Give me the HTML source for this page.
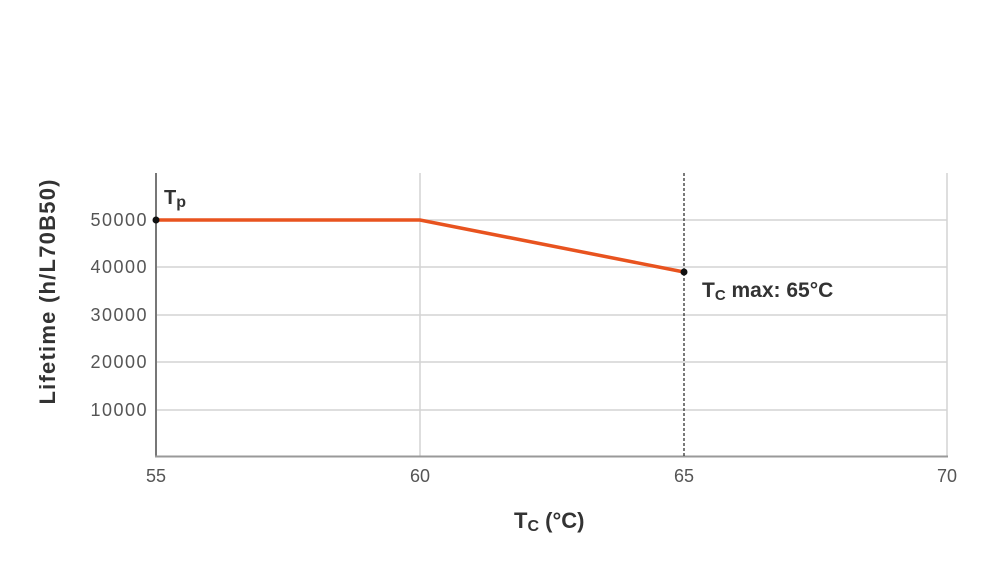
<!DOCTYPE html>
<html><head><style>body{margin:0;background:#fff}svg{display:block}</style></head><body>
<svg width="1000" height="584" viewBox="0 0 1000 584" font-family="Liberation Sans, sans-serif">
<g stroke="#d4d4d4" stroke-width="1.5">
<line x1="156" y1="220" x2="947" y2="220"/><line x1="156" y1="267" x2="947" y2="267"/>
<line x1="156" y1="315" x2="947" y2="315"/><line x1="156" y1="362" x2="947" y2="362"/>
<line x1="156" y1="410" x2="947" y2="410"/>
<line x1="420" y1="173" x2="420" y2="456"/><line x1="947" y1="173" x2="947" y2="456"/>
</g>
<line x1="156" y1="173" x2="156" y2="457" stroke="#777" stroke-width="2"/>
<line x1="155" y1="456.5" x2="948" y2="456.5" stroke="#999" stroke-width="2"/>
<line x1="684" y1="173" x2="684" y2="456" stroke="#222" stroke-width="1.2" stroke-dasharray="3,2"/>
<polyline points="156,220 420,220 684,272" fill="none" stroke="#e8531f" stroke-width="3.5"/>
<circle cx="156" cy="220" r="3.5" fill="#111"/><circle cx="684" cy="272" r="3.5" fill="#111"/>
<g font-size="18" fill="#555" text-anchor="end" letter-spacing="1.5">
<text x="148" y="226">50000</text><text x="148" y="273">40000</text><text x="148" y="321">30000</text>
<text x="148" y="368">20000</text><text x="148" y="416">10000</text></g>
<g font-size="18" fill="#555" text-anchor="middle">
<text x="156" y="482">55</text><text x="420" y="482">60</text><text x="684" y="482">65</text><text x="947" y="482">70</text></g>
<text x="164" y="204" font-size="20" font-weight="bold" fill="#333">T<tspan font-size="16" dy="3">p</tspan></text>
<text x="702" y="297" font-size="21" font-weight="bold" fill="#333">T<tspan font-size="15" dy="3">C</tspan><tspan dy="-3"> max: 65°C</tspan></text>
<text x="514" y="528" font-size="22" font-weight="bold" fill="#333">T<tspan font-size="16" dy="3">C</tspan><tspan dy="-3"> (°C)</tspan></text>
<text transform="translate(55,292) rotate(-90)" text-anchor="middle" font-size="22" font-weight="bold" fill="#333" textLength="225">Lifetime (h/L70B50)</text>
</svg>
</body></html>
